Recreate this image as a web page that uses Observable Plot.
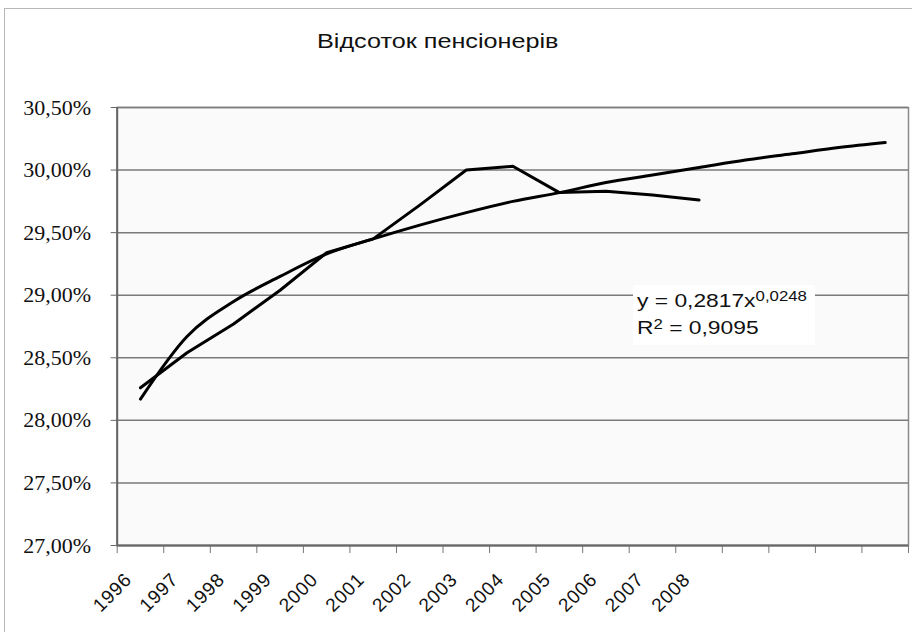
<!DOCTYPE html>
<html><head><meta charset="utf-8">
<script src="https://cdn.jsdelivr.net/npm/d3@7"></script>
<script src="https://cdn.jsdelivr.net/npm/@observablehq/plot@0.6"></script>
<style>
body{margin:0;background:#fff;}
#wrap{position:relative;width:912px;height:632px;overflow:hidden;}
#border{position:absolute;left:4px;top:8px;width:960px;height:700px;border:1.5px solid #b8b8b8;box-sizing:border-box;}
#chart{position:absolute;left:0;top:0;}
#title{position:absolute;left:316.7px;top:30px;font:21px/21px "Liberation Sans",Arial,sans-serif;color:#111;transform:scaleX(1.2);transform-origin:left top;white-space:nowrap;}
#eq{position:absolute;left:633px;top:285px;width:182px;height:60px;background:#fff;}
#eqtext{position:absolute;left:3.7px;top:2.7px;font:19px/26.7px "Liberation Sans",Arial,sans-serif;color:#111;transform:scaleX(1.2);transform-origin:left top;white-space:nowrap;}
.sup{font-size:14px;position:relative;top:-5.6px;}
</style></head><body>
<div id="wrap"><div id="border"></div><div id="chart"></div><div id="title"></div><div id="eq"><div id="eqtext"></div></div></div>
<script>
// Chart title and trendline annotation
const titleText = "Відсоток пенсіонерів";
const eqBase = "y = 0,2817x";
const eqExp = "0,0248";
const r2Label = "R";
const r2Exp = "2";
const r2Value = " = 0,9095";

// Categories (the trendline is extended 4 periods beyond the data)
const years = ["1996","1997","1998","1999","2000","2001","2002","2003","2004","2005","2006","2007","2008","","","",""];
// Share of pensioners, %
const share = [28.26, 28.54, 28.77, 29.04, 29.34, 29.45, 29.72, 30.00, 30.03, 29.82, 29.83, 29.80, 29.76];
// Power trendline values read at each category, %
const trend = [28.17, 28.67, 28.95, 29.15, 29.33, 29.45, 29.56, 29.66, 29.75, 29.82, 29.90, 29.96, 30.02, 30.08, 30.13, 30.18, 30.22];
// Y axis ticks, %
const yTicks = [27.0, 27.5, 28.0, 28.5, 29.0, 29.5, 30.0, 30.5];

const dataShare = share.map((v, i) => ({i: i + 1, v}));
const dataTrend = trend.map((v, i) => ({i: i + 1, v}));
const cats = years.map((label, i) => ({i: i + 1, label}));
const bounds = d3.range(0, years.length + 1).map(k => k + 0.5);
const fmt = d => d.toFixed(2).replace(".", ",") + "%";

const chart = Plot.plot({
  width: 912, height: 632,
  marginLeft: 116.7, marginRight: 4, marginTop: 107, marginBottom: 87,
  style: {background: "transparent", overflow: "visible"},
  x: {domain: [0.5, years.length + 0.5], axis: null, label: null},
  y: {domain: [27, 30.5], axis: null, label: null},
  marks: [
    Plot.frame({fill: "#fafafa", stroke: "#8a8a8a", strokeWidth: 1.5}),
    Plot.gridY(yTicks, {stroke: "#7a7a7a", strokeOpacity: 1, strokeWidth: 1.5}),
    Plot.axisY(yTicks, {label: null, tickFormat: fmt, tickSize: 6, tickPadding: 20, fontSize: 22, fontFamily: "Liberation Serif, serif", stroke: "#666", fill: "#111"}),
    Plot.axisX(bounds, {label: null, tickFormat: () => "", tickSize: 8, stroke: "#777"}),
    Plot.ruleX([0.5], {stroke: "#666", strokeWidth: 2}),
    Plot.ruleY([27], {stroke: "#666", strokeWidth: 2}),
    Plot.text(cats, {x: "i", text: "label", frameAnchor: "bottom", dx: -12, dy: 31, rotate: -45, textAnchor: "end", lineAnchor: "middle", fontSize: 19, fontFamily: "Liberation Sans, Arial, sans-serif", fill: "#111"}),
    Plot.line(dataTrend, {x: "i", y: "v", curve: "monotone-x", stroke: "#000", strokeWidth: 3}),
    Plot.line(dataShare, {x: "i", y: "v", stroke: "#000", strokeWidth: 3})
  ]
});
document.getElementById("chart").appendChild(chart);
d3.select(chart).selectAll('g[aria-label="text"] text').style("letter-spacing", "0.8px");
document.getElementById("title").textContent = titleText;
const eq = document.getElementById("eqtext");
eq.innerHTML = "";
const l1 = document.createElement("div");
l1.append(eqBase);
const s1 = document.createElement("span"); s1.className = "sup"; s1.textContent = eqExp; l1.append(s1);
const l2 = document.createElement("div");
l2.append(r2Label);
const s2 = document.createElement("span"); s2.className = "sup"; s2.textContent = r2Exp; l2.append(s2);
l2.append(r2Value);
eq.append(l1, l2);
</script>
</body></html>
